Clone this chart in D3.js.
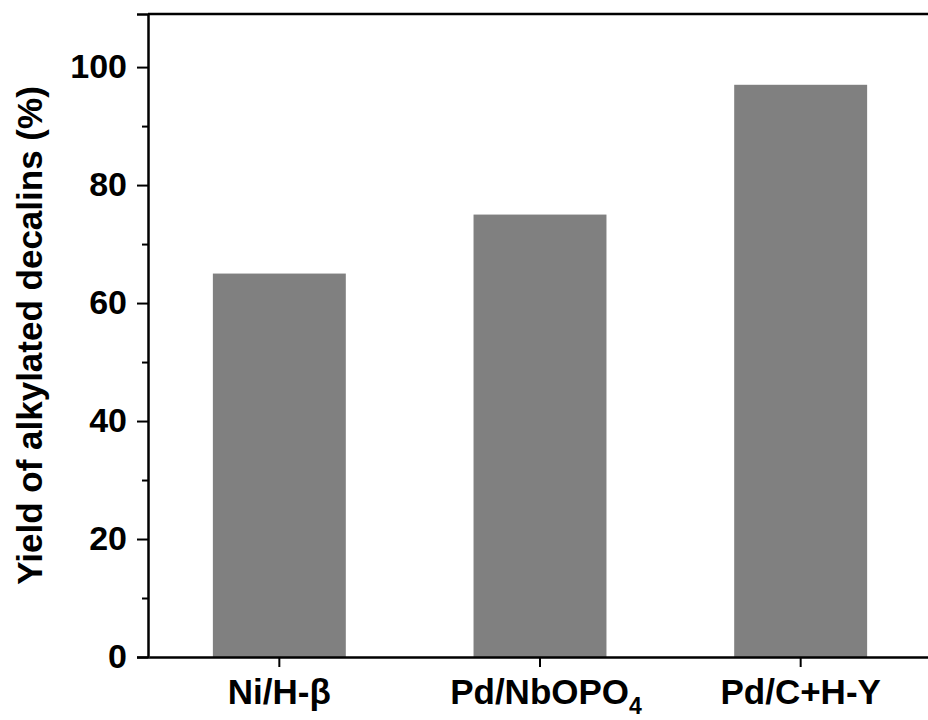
<!DOCTYPE html>
<html>
<head>
<meta charset="utf-8">
<script src="https://cdn.jsdelivr.net/npm/d3@7"></script>
<style>
  html, body { margin: 0; padding: 0; background: #fff; }
  svg { display: block; font-family: "Liberation Sans", Arial, sans-serif; font-weight: bold; }
</style>
</head>
<body>
<div id="main"></div>
<script>
'use strict';

// chart data
var catalysts = ['Ni/H-β', 'Pd/NbOPO4', 'Pd/C+H-Y'];
var yields = [65, 75, 97];
var yTicks = [0, 20, 40, 60, 80, 100];
var yMinorTicks = [10, 30, 50, 70, 90];

var width = 928, height = 720;
var plotLeft = 148, plotTop = 14, plotBottom = 657;

var svg = d3.select('#main').append('svg')
  .attr('width', width)
  .attr('height', height);

var x = d3.scaleBand()
  .domain(catalysts)
  .range([149, 931])
  .paddingInner(0.49)
  .paddingOuter(0.245);

var y = d3.scaleLinear()
  .domain([0, 109])
  .range([plotBottom, plotTop]);

// bars
svg.append('g').selectAll('rect')
  .data(yields)
  .enter().append('rect')
  .attr('x', function(d, i) { return x(catalysts[i]); })
  .attr('y', function(d) { return y(d); })
  .attr('width', x.bandwidth())
  .attr('height', function(d) { return y(0) - y(d); })
  .attr('fill', '#808080');

// frame: top line (right side is off the picture)
svg.append('line')
  .attr('x1', plotLeft).attr('x2', width + 10)
  .attr('y1', plotTop).attr('y2', plotTop)
  .attr('stroke', '#000').attr('stroke-width', 2.5);

// y axis
var yAxis = svg.append('g')
  .attr('transform', 'translate(' + plotLeft + ',0)')
  .call(d3.axisLeft(y).tickValues(yTicks).tickSize(11).tickPadding(10).tickFormat(d3.format('d')));

svg.append('g')
  .attr('transform', 'translate(' + plotLeft + ',0)')
  .call(d3.axisLeft(y).tickValues(yMinorTicks).tickSize(6).tickFormat(''))
  .select('.domain').remove();

// x axis
var xAxis = svg.append('g')
  .attr('transform', 'translate(0,' + plotBottom + ')')
  .call(d3.axisBottom(x).tickSize(10).tickSizeOuter(0).tickFormat(''));

svg.selectAll('.domain').attr('stroke-width', 2.5);
svg.selectAll('.tick line').attr('stroke-width', 2);

yAxis.selectAll('text')
  .attr('font-size', 34)
  .attr('font-weight', 'bold')
  .attr('font-family', '"Liberation Sans", Arial, sans-serif')
  .attr('fill', '#000');

// category labels with subscripts
xAxis.selectAll('.tick').each(function(d) {
  var t = d3.select(this).append('text')
    .attr('y', 47)
    .attr('text-anchor', 'middle')
    .attr('font-size', 35)
    .attr('fill', '#000');
  var m = d.match(/^(.*?[A-Za-z])(\d+)$/);
  if (m) {
    t.attr('x', 6);
    t.append('tspan').text(m[1]);
    t.append('tspan').attr('font-size', 23).attr('dy', 10).text(m[2]);
  } else {
    t.text(d);
  }
});

// y axis title
svg.append('text')
  .attr('transform', 'translate(42,' + ((plotTop + plotBottom) / 2) + ') rotate(-90)')
  .attr('text-anchor', 'middle')
  .attr('font-size', 35)
  .attr('fill', '#000')
  .text('Yield of alkylated decalins (%)');
</script>
</body>
</html>
